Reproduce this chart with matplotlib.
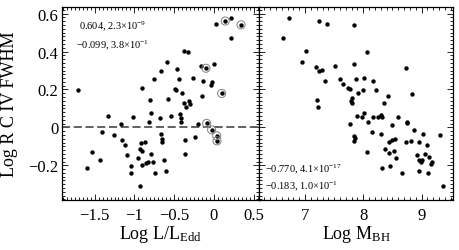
import numpy as np
import matplotlib
matplotlib.use('Agg')
import matplotlib.pyplot as plt
from matplotlib.ticker import MultipleLocator

plt.rcParams['font.family'] = ['Liberation Serif', 'DejaVu Serif']
plt.rcParams['mathtext.fontset'] = 'custom'
plt.rcParams['mathtext.rm'] = 'Liberation Serif'
plt.rcParams['mathtext.it'] = 'Liberation Serif:italic'

# left panel: Log L/LEdd vs Log R(C IV FWHM)
edd_x = [-1.714, -1.601, -1.535, -1.430, -1.413, -1.330, -1.258, -1.164, -1.153, -1.116,
         -1.098, -1.040, -1.044, -1.016, -0.960, -0.931, -0.918, -0.872, -0.902, -0.927,
         -0.909, -0.859, -0.834, -0.796, -0.814, -0.796, -0.799, -0.764, -0.746, -0.682,
         -0.667, -0.648, -0.648, -0.629, -0.608, -0.902, -0.751, -0.660, -0.595, -0.579,
         -0.535, -0.491, -0.478, -0.463, -0.436, -0.421, -0.418, -0.412, -0.403, -0.381,
         -0.374, -0.352, -0.370, -0.361, -0.325, -0.317, -0.302, -0.268, -0.239, -0.205,
         -0.151, -0.157, -0.135, -0.025, -0.038, 0.000, 0.025, 0.210, 0.216]
edd_y = [0.199, -0.213, -0.129, -0.173, -0.026, 0.058, -0.041, 0.017, -0.069, -0.094,
         -0.148, -0.206, -0.240, 0.057, -0.164, -0.115, -0.081, -0.079, -0.127, -0.311,
         -0.198, -0.187, -0.182, -0.138, 0.030, 0.076, 0.143, -0.185, -0.238, 0.051,
         -0.035, -0.060, -0.078, -0.171, -0.228, 0.208, 0.256, 0.295, 0.347, 0.152,
         0.061, 0.205, 0.195, 0.306, 0.256, 0.070, 0.049, 0.027, 0.181, 0.401,
         0.127, 0.106, -0.069, -0.140, 0.397, 0.141, 0.126, 0.258, -0.050, 0.016,
         0.166, 0.322, 0.247, 0.242, 0.225, 0.334, 0.543, 0.577, 0.470]
# circled objects
circ_x = [-0.101, 0.097, 0.142, 0.340, -0.092, -0.029, 0.034, 0.038]
circ_y = [0.312, 0.179, 0.561, 0.541, 0.021, -0.013, -0.044, -0.071]

# right panel: Log MBH vs Log R(C IV FWHM)
mbh_x = [6.623, 6.726, 6.954, 7.022, 7.194, 7.240, 7.292, 7.245, 7.372, 7.343,
         7.211, 7.228, 7.515, 7.600, 7.652, 7.732, 7.767, 7.846, 7.846, 7.880,
         7.914, 7.806, 7.784, 7.813, 7.995, 8.012, 8.069, 8.161, 8.218, 8.429,
         8.355, 8.738, 8.830, 8.012, 7.887, 7.983, 8.084, 7.772, 8.161, 8.247,
         8.298, 8.316, 8.600, 8.487, 8.744, 8.753, 8.875, 8.149, 8.304, 9.024,
         9.321, 7.846, 7.858, 7.837, 8.544, 8.497, 8.436, 8.738, 8.813, 8.950,
         9.098, 8.055, 8.377, 8.532, 8.441, 8.569, 8.916, 9.058, 9.130, 8.961,
         8.990, 9.002, 9.184, 9.161, 8.321, 8.463, 8.659, 8.950, 9.113, 9.372]
mbh_y = [0.471, 0.577, 0.346, 0.402, 0.317, 0.296, 0.305, 0.561, 0.543, 0.245,
         0.143, 0.106, 0.324, 0.257, 0.228, 0.208, 0.204, 0.541, 0.335, 0.257,
         0.180, 0.153, 0.140, 0.127, 0.197, 0.259, 0.397, 0.247, 0.197, 0.167,
         0.129, 0.314, 0.178, 0.076, 0.061, 0.053, 0.030, 0.017, 0.053, 0.053,
         0.065, 0.056, 0.057, 0.015, 0.030, 0.021, -0.012, -0.026, -0.034, -0.035,
         -0.039, -0.044, -0.056, -0.071, -0.062, -0.065, -0.077, -0.079, -0.071, -0.076,
         -0.094, -0.129, -0.113, -0.127, -0.136, -0.162, -0.148, -0.141, -0.156, -0.173,
         -0.180, -0.171, -0.185, -0.193, -0.212, -0.206, -0.238, -0.229, -0.238, -0.311]

yticks = [-0.2, 0, 0.2, 0.4, 0.6]
ytick_labels = ['\u22120.2', '0', '0.2', '0.4', '0.6']
xticks_l = [-1.5, -1, -0.5, 0, 0.5]
xtick_labels_l = ['\u22121.5', '\u22121', '\u22120.5', '0', '0.5']
xticks_r = [7, 8, 9]

fig = plt.figure(figsize=(4.6, 2.51), dpi=100)
axl = fig.add_axes((0.1348, 0.1992, 0.4289, 0.7689))
axr = fig.add_axes((0.5637, 0.1992, 0.4204, 0.7689))

for ax in (axl, axr):
    ax.set_ylim(-0.383, 0.635)
    ax.set_yticks(yticks)
    ax.yaxis.set_minor_locator(MultipleLocator(0.02))
    ax.tick_params(which='both', direction='in', top=True, right=True, width=0.6)
    ax.tick_params(which='major', length=4, labelsize=12)
    ax.tick_params(which='minor', length=2)
    ax.tick_params(axis='x', pad=5)
    ax.tick_params(axis='y', pad=2.5)
    for s in ax.spines.values():
        s.set_linewidth(0.9)

axl.scatter(edd_x, edd_y, s=10, c='k', linewidths=0, zorder=3)
axl.scatter(circ_x, circ_y, s=10, c='k', linewidths=0, zorder=3)
axl.scatter(circ_x, circ_y, s=34, facecolors='none', edgecolors='#808080',
            linewidths=0.7, zorder=3)
axl.axhline(0, color='#555555', lw=1.3, dashes=(4.5, 2), zorder=2)
axl.set_xlim(-1.91, 0.57)
axl.set_xticks(xticks_l)
axl.set_xticklabels(xtick_labels_l)
axl.xaxis.set_minor_locator(MultipleLocator(0.05))
axl.set_yticklabels(ytick_labels)
axl.set_xlabel(r'Log L/L$_{\rm Edd}$', fontsize=13)
axl.set_ylabel('Log R C IV FWHM', fontsize=13)
axl.yaxis.set_label_coords(-0.225, 0.5)
axl.xaxis.set_label_coords(0.5, -0.12)
axl.text(0.085, 0.905, r'0.604, 2.3$\times$10$^{-9}$', transform=axl.transAxes,
         fontsize=7.5, va='center', ha='left')
axl.text(0.07, 0.81, r'$-$0.099, 3.8$\times$10$^{-1}$', transform=axl.transAxes,
         fontsize=7.5, va='center', ha='left')

axr.scatter(mbh_x, mbh_y, s=10, c='k', linewidths=0, zorder=3)
axr.set_xlim(6.216, 9.533)
axr.set_xticks(xticks_r)
axr.xaxis.set_minor_locator(MultipleLocator(0.1))
axr.set_yticklabels([])
axr.set_xlabel(r'Log M$_{\rm BH}$', fontsize=13)
axr.xaxis.set_label_coords(0.5, -0.12)
axr.text(0.03, 0.165, r'$-$0.770, 4.1$\times$10$^{-17}$', transform=axr.transAxes,
         fontsize=7.5, va='center', ha='left')
axr.text(0.03, 0.075, r'$-$0.183, 1.0$\times$10$^{-1}$', transform=axr.transAxes,
         fontsize=7.5, va='center', ha='left')

fig.savefig('out.png', dpi=100)
